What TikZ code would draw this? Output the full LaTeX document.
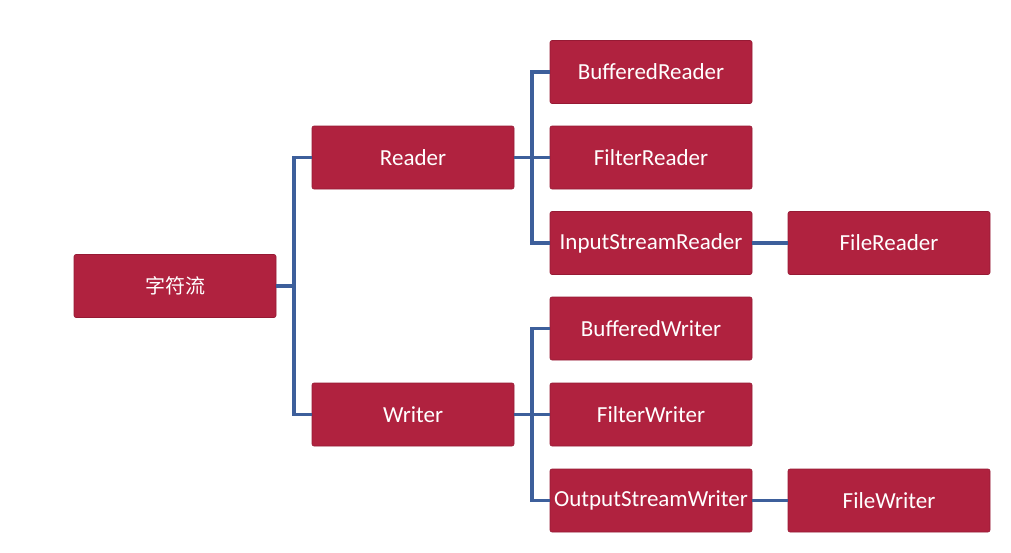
\documentclass[tikz,border=0pt]{standalone}
\usepackage{fontspec}
\setmainfont{Carlito}
\newfontfamily\cjk{Noto Sans CJK SC}
\usetikzlibrary{positioning,calc}
\definecolor{boxColor}{HTML}{B0223F}
\definecolor{boxEdge}{HTML}{961A34}
\definecolor{linkColor}{HTML}{3D5F9B}
\tikzset{
	streambox/.style={draw=boxEdge, line width=0.6pt, fill=boxColor, rounded corners=2pt, minimum width=202pt, minimum height=63pt, inner sep=0, outer sep=0, text=white, font=\fontsize{23}{26}\selectfont},
	link/.style={draw=linkColor, line width=3.5pt}
}

\begin{document}
\begin{tikzpicture}[x=1pt,y=-1pt]
	\useasboundingbox (0,0) rectangle (1011,552);
	\node[streambox] (root) at (175, 286) {\cjk\fontsize{20}{24}\selectfont 字符流};
	\node[streambox] (reader) at (413, 157.5) {Reader};
	\node[streambox] (writer) at (413, 414.5) {Writer};
	\node[streambox] (bufreader) at (651, 72) {BufferedReader};
	\node[streambox] (filtreader) at (651, 157.5) {FilterReader};
	\node[streambox] (isreader) at (651, 243) {InputStreamReader};
	\node[streambox] (bufwriter) at (651, 328.5) {BufferedWriter};
	\node[streambox] (filtwriter) at (651, 414.5) {FilterWriter};
	\node[streambox] (oswriter) at (651, 500.5) {OutputStreamWriter};
	\node[streambox] (filereader) at (889, 243) {FileReader};
	\node[streambox] (filewriter) at (889, 500.5) {FileWriter};
	
	\coordinate (rootfork) at ($(root.east)+(18,0)$);
	\coordinate (readfork) at ($(reader.east)+(18,0)$);
	\coordinate (writefork) at ($(writer.east)+(18,0)$);
	% root to reader / writer
	\path[link] (root.east) -- (rootfork) |- (reader.west);
	\path[link] (rootfork) |- (writer.west);
	% reader branch
	\path[link] (reader.east) -- (readfork) |- (bufreader.west);
	\path[link] (readfork) -- (filtreader.west);
	\path[link] (readfork) |- (isreader.west);
	\path[link] (isreader.east) -- (filereader.west);
	% writer branch
	\path[link] (writer.east) -- (writefork) |- (bufwriter.west);
	\path[link] (writefork) -- (filtwriter.west);
	\path[link] (writefork) |- (oswriter.west);
	\path[link] (oswriter.east) -- (filewriter.west);
\end{tikzpicture}
\end{document}
